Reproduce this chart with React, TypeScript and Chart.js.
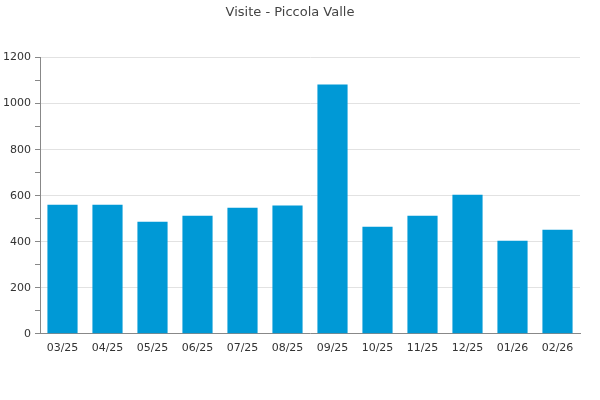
import React, { useEffect, useRef } from "react";
import { Chart, registerables } from "chart.js";

Chart.register(...registerables);

const categories = ["03/25", "04/25", "05/25", "06/25", "07/25", "08/25", "09/25", "10/25", "11/25", "12/25", "01/26", "02/26"];
const visits = [561, 561, 487, 513, 548, 557, 1083, 465, 513, 604, 404, 452];
const titleText = "Visite - Piccola Valle";

export default function App() {
  const ref = useRef<HTMLCanvasElement | null>(null);
  useEffect(() => {
    if (!ref.current) return;
    const chart = new Chart(ref.current, {
      type: "bar",
      data: {
        labels: categories,
        datasets: [
          {
            label: "Visite",
            data: visits,
            backgroundColor: "#0099d6",
            borderWidth: 0,
            categoryPercentage: 1,
            barPercentage: 0.67,
          },
        ],
      },
      options: {
        animation: false,
        responsive: false,
        layout: { padding: { left: 0, right: 20, top: 0, bottom: 37 } },
        plugins: {
          legend: { display: false },
          tooltip: { enabled: false },
          title: {
            display: true,
            text: titleText,
            color: "#444",
            font: { family: "DejaVu Sans", size: 13, weight: "normal" },
            padding: { top: 5, bottom: 37 },
          },
        },
        scales: {
          x: {
            grid: { display: false, drawTicks: false },
            border: { display: true, color: "#888" },
            ticks: {
              color: "#333",
              font: { family: "DejaVu Sans", size: 11 },
              padding: 8,
              maxRotation: 0,
            },
          },
          y: {
            min: 0,
            max: 1200,
            afterFit: (s: any) => {
              s.width = 40;
            },
            border: { display: true, color: "#888" },
            grid: {
              color: (ctx: any) => (ctx.tick && ctx.tick.value % 200 === 0 ? "#e2e2e2" : "rgba(0,0,0,0)"),
              tickColor: "#888",
              tickLength: 5,
            },
            ticks: {
              stepSize: 100,
              color: "#333",
              font: { family: "DejaVu Sans", size: 11 },
              padding: 4,
              callback: (v: any) => (Number(v) % 200 === 0 ? String(v) : ""),
            },
          },
        },
      },
    });
    return () => chart.destroy();
  }, []);
  return (
    <div style={{ position: "fixed", left: 0, top: 0, width: 600, height: 400, background: "#fff" }}>
      <canvas ref={ref} width={600} height={400} style={{ width: 600, height: 400 }} />
    </div>
  );
}
